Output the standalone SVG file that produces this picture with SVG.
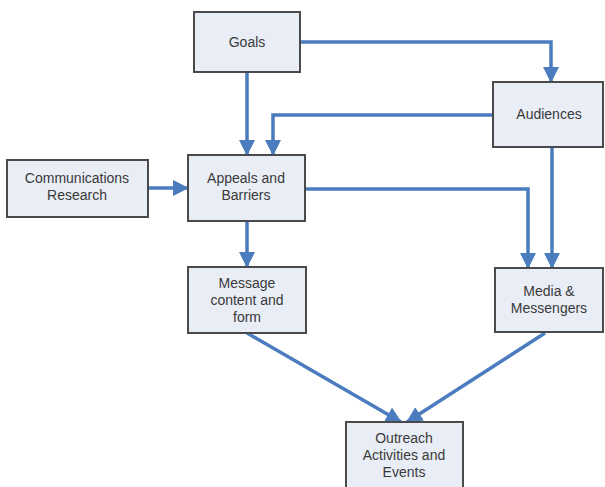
<svg xmlns="http://www.w3.org/2000/svg" width="605" height="487" viewBox="0 0 605 487">
  <defs>
    <style>
      .box { fill: #e9edf6; stroke: #4a4a4a; stroke-width: 2; }
      .lbl { font-family: "Liberation Sans", Arial, sans-serif; font-size: 14px; fill: #3a3a3a; text-anchor: middle; }
      .wire { fill: none; stroke: #4a7cbf; stroke-width: 3.5; }
    </style>
    <marker id="head" markerUnits="userSpaceOnUse" markerWidth="16" markerHeight="16" viewBox="0 0 16 16" refX="15" refY="8" orient="auto">
      <path d="M0,0 L16,8 L0,16 Z" fill="#4a7cbf"/>
    </marker>
  </defs>
  <rect width="605" height="487" fill="#ffffff"/>

  <g id="connectors">
    <path class="wire" d="M247,72 V155" marker-end="url(#head)"/>
    <path class="wire" d="M300,42 H551 V82" marker-end="url(#head)"/>
    <path class="wire" d="M493,115 H273 V155" marker-end="url(#head)"/>
    <path class="wire" d="M148,188 H188" marker-end="url(#head)"/>
    <path class="wire" d="M305,189 H528 V268" marker-end="url(#head)"/>
    <path class="wire" d="M552,147 V268" marker-end="url(#head)"/>
    <path class="wire" d="M247,221 V267" marker-end="url(#head)"/>
    <path class="wire" d="M247,333 L401,422" marker-end="url(#head)"/>
    <path class="wire" d="M545,333 L407,422" marker-end="url(#head)"/>
  </g>

  <g id="goals">
    <rect class="box" x="194" y="12" width="106" height="60"/>
    <text class="lbl" x="247" y="47">Goals</text>
  </g>
  <g id="audiences">
    <rect class="box" x="493" y="82" width="110" height="65"/>
    <text class="lbl" x="549" y="119">Audiences</text>
  </g>
  <g id="communications-research">
    <rect class="box" x="7" y="160" width="141" height="57"/>
    <text class="lbl" x="77" y="183">Communications</text>
    <text class="lbl" x="77" y="200">Research</text>
  </g>
  <g id="appeals-barriers">
    <rect class="box" x="188" y="155" width="117" height="66"/>
    <text class="lbl" x="246" y="183">Appeals and</text>
    <text class="lbl" x="246" y="200">Barriers</text>
  </g>
  <g id="message">
    <rect class="box" x="188" y="267" width="118" height="66"/>
    <text class="lbl" x="247" y="288">Message</text>
    <text class="lbl" x="247" y="305">content and</text>
    <text class="lbl" x="247" y="322">form</text>
  </g>
  <g id="media-messengers">
    <rect class="box" x="495" y="268" width="108" height="64"/>
    <text class="lbl" x="549" y="296">Media &amp;</text>
    <text class="lbl" x="549" y="313">Messengers</text>
  </g>
  <g id="outreach">
    <rect class="box" x="346" y="422" width="117" height="70"/>
    <text class="lbl" x="404" y="443">Outreach</text>
    <text class="lbl" x="404" y="460">Activities and</text>
    <text class="lbl" x="404" y="477">Events</text>
  </g>
</svg>
